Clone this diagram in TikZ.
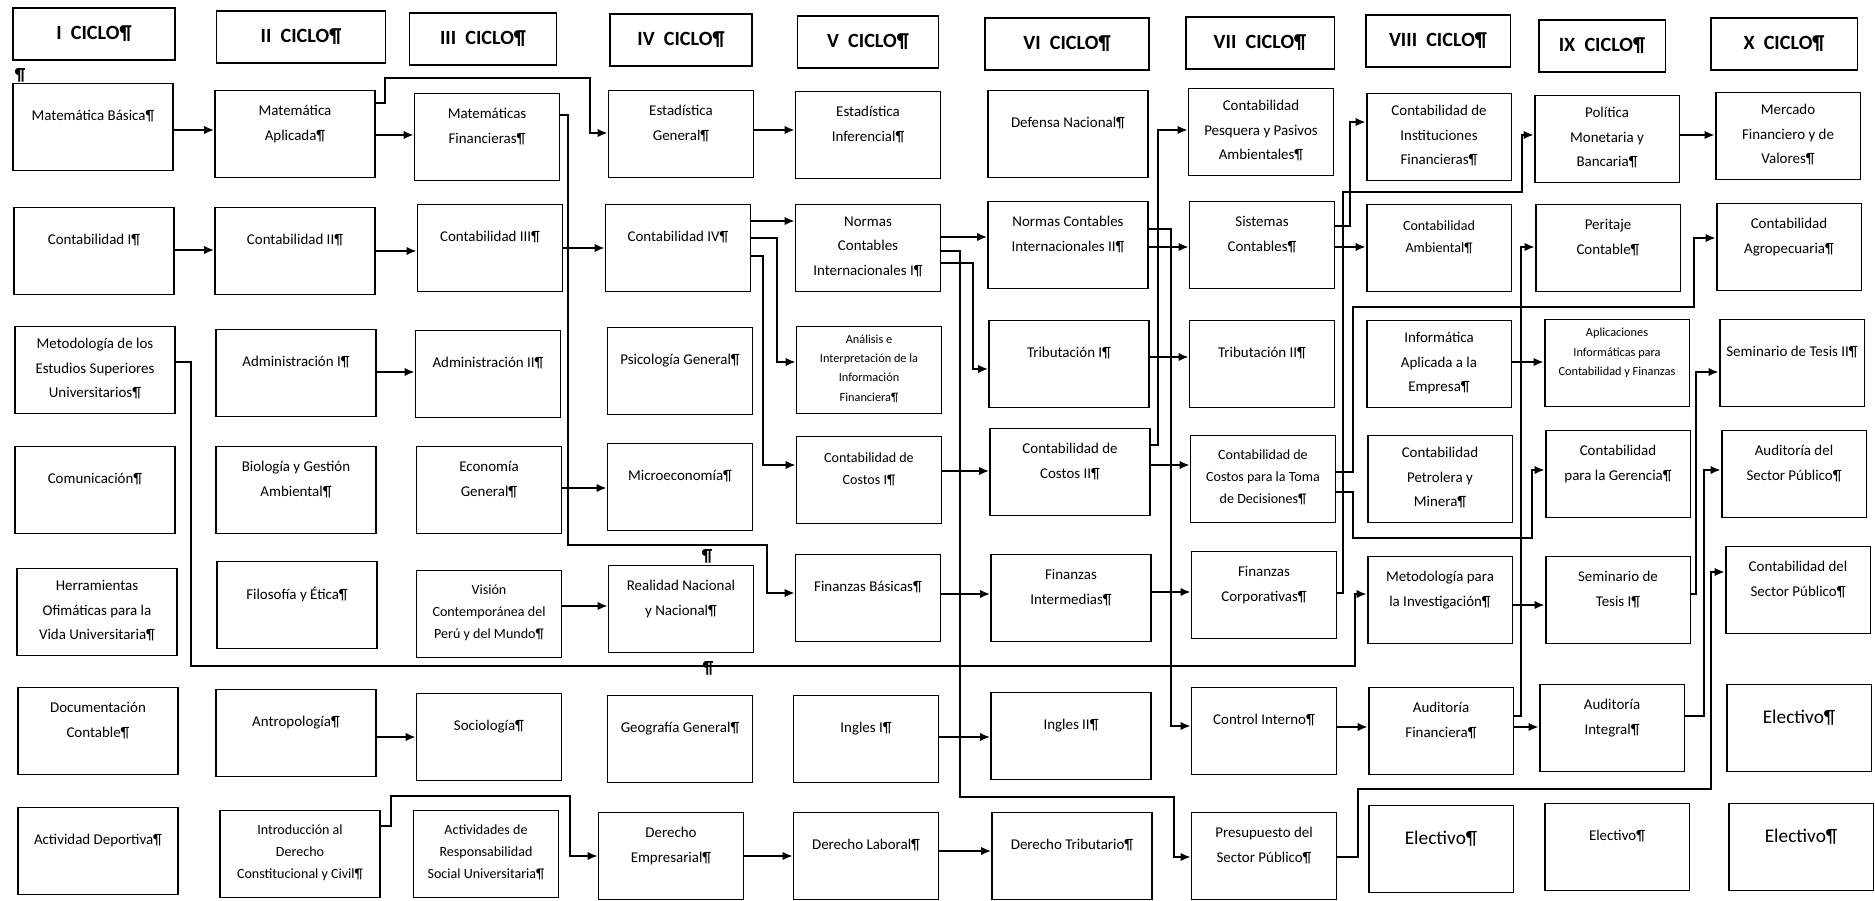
\documentclass[tikz,border=0pt]{standalone}
\usepackage{fontspec}
\setmainfont{Carlito}
\usetikzlibrary{arrows.meta}

\tikzstyle{course}=[draw,line width=1.1pt,minimum width=2.9cm,minimum height=1.74cm,align=center,inner sep=2pt,text depth=0.45cm,font=\fontsize{8.5}{14}\selectfont]
\tikzstyle{widebox}=[course,minimum width=3.2cm]
\tikzstyle{tall}=[text depth=0.08cm]
\tikzstyle{smalltext}=[font=\fontsize{7}{11}\selectfont]
\tikzstyle{midtext}=[font=\fontsize{8}{12.5}\selectfont]
\tikzstyle{bigtext}=[font=\fontsize{11}{14}\selectfont]
\tikzstyle{ciclo}=[draw,line width=1.1pt,minimum width=2.9cm,minimum height=1.04cm,font=\bfseries\fontsize{11.5}{14}\selectfont]
\tikzstyle{link}=[-{Latex[length=2mm,width=1.7mm]},line width=1pt]
\tikzstyle{stray}=[font=\bfseries\fontsize{10}{12}\selectfont,inner sep=0pt]

\begin{document}
\begin{tikzpicture}[x=0.02cm,y=-0.02cm]
\useasboundingbox (0,0) rectangle (1875,901);
% headers
\node[ciclo,minimum width=3.24cm] (h1) at (94,34) {I\ \ CICLO¶};
\node[ciclo,minimum width=3.38cm] (h2) at (301,37) {II\ \ CICLO¶};
\node[ciclo,minimum width=2.94cm] (h3) at (483,39) {III\ \ CICLO¶};
\node[ciclo,minimum width=2.84cm] (h4) at (681,40) {IV\ \ CICLO¶};
\node[ciclo,minimum width=2.82cm] (h5) at (868,42) {V\ \ CICLO¶};
\node[ciclo,minimum width=3.28cm] (h6) at (1067,44) {VI\ \ CICLO¶};
\node[ciclo,minimum width=2.98cm] (h7) at (1260,43) {VII\ \ CICLO¶};
\node[ciclo,minimum width=2.9cm] (h8) at (1438,41) {VIII\ \ CICLO¶};
\node[ciclo,minimum width=2.54cm] (h9) at (1602,46) {IX\ \ CICLO¶};
\node[ciclo,minimum width=2.94cm] (h10) at (1784,44) {X\ \ CICLO¶};
\node[stray] (p1) at (20,75) {¶};
% 1st row
\node[widebox] (c1_1) at (93,127) {Matemática Básica¶};
\node[widebox] (c1_2) at (295,134) {Matemática\\Aplicada¶};
\node[course] (c1_3) at (487,137) {Matemáticas\\Financieras¶};
\node[course] (c1_4) at (681,134) {Estadística\\General¶};
\node[course] (c1_5) at (868,135) {Estadística\\Inferencial¶};
\node[widebox] (c1_6) at (1068,134) {Defensa Nacional¶};
\node[course,tall] (c1_7) at (1261,132) {Contabilidad\\Pesquera y Pasivos\\Ambientales¶};
\node[course,tall] (c1_8) at (1439,137) {Contabilidad de\\Instituciones\\Financieras¶};
\node[course,tall] (c1_9) at (1607,139) {Política\\Monetaria y\\Bancaria¶};
\node[course,tall] (c1_10) at (1788,136) {Mercado\\Financiero y de\\Valores¶};
% 2nd row
\node[widebox] (c2_1) at (94,251) {Contabilidad I¶};
\node[widebox] (c2_2) at (295,251) {Contabilidad II¶};
\node[course] (c2_3) at (490,248) {Contabilidad III¶};
\node[course] (c2_4) at (678,248) {Contabilidad IV¶};
\node[course,tall] (c2_5) at (868,248) {Normas\\Contables\\Internacionales I¶};
\node[widebox] (c2_6) at (1068,245) {Normas Contables\\Internacionales II¶};
\node[course] (c2_7) at (1262,245) {Sistemas\\Contables¶};
\node[course,midtext] (c2_8) at (1439,248) {Contabilidad\\Ambiental¶};
\node[course] (c2_9) at (1608,248) {Peritaje\\Contable¶};
\node[course] (c2_10) at (1789,247) {Contabilidad\\Agropecuaria¶};
% 3rd row
\node[widebox,tall] (c3_1) at (95,370) {Metodología de los\\Estudios Superiores\\Universitarios¶};
\node[widebox] (c3_2) at (296,373) {Administración I¶};
\node[course] (c3_3) at (488,374) {Administración II¶};
\node[course] (c3_4) at (680,371) {Psicología General¶};
\node[course,smalltext,tall] (c3_5) at (869,370) {Análisis e\\Interpretación de la\\Información\\Financiera¶};
\node[widebox] (c3_6) at (1069,364) {Tributación I¶};
\node[course] (c3_7) at (1262,364) {Tributación II¶};
\node[course,tall] (c3_8) at (1439,364) {Informática\\Aplicada a la\\Empresa¶};
\node[course,smalltext] (c3_9) at (1617,363) {Aplicaciones\\Informáticas para\\Contabilidad y Finanzas};
\node[course] (c3_10) at (1792,363) {Seminario de Tesis II¶};
% 4th row
\node[widebox] (c4_1) at (95,490) {Comunicación¶};
\node[widebox] (c4_2) at (296,490) {Biología y Gestión\\Ambiental¶};
\node[course] (c4_3) at (489,490) {Economía\\General¶};
\node[course] (c4_4) at (680,487) {Microeconomía¶};
\node[course,midtext] (c4_5) at (869,480) {Contabilidad de\\Costos I¶};
\node[widebox] (c4_6) at (1070,472) {Contabilidad de\\Costos II¶};
\node[course,midtext,tall] (c4_7) at (1263,479) {Contabilidad de\\Costos para la Toma\\de Decisiones¶};
\node[course,tall] (c4_8) at (1440,479) {Contabilidad\\Petrolera y\\Minera¶};
\node[course] (c4_9) at (1618,474) {Contabilidad\\para la Gerencia¶};
\node[course] (c4_10) at (1794,474) {Auditoría del\\Sector Público¶};
% 5th row
\node[widebox,tall] (c5_1) at (97,612) {Herramientas\\Ofimáticas para la\\Vida Universitaria¶};
\node[widebox] (c5_2) at (297,605) {Filosofía y Ética¶};
\node[course,midtext,tall] (c5_3) at (489,614) {Visión\\Contemporánea del\\Perú y del Mundo¶};
\node[course] (c5_4) at (681,609) {Realidad Nacional\\y Nacional¶};
\node[course] (c5_5) at (868,598) {Finanzas Básicas¶};
\node[widebox] (c5_6) at (1071,598) {Finanzas\\Intermedias¶};
\node[course] (c5_7) at (1264,595) {Finanzas\\Corporativas¶};
\node[course] (c5_8) at (1440,600) {Metodología para\\la Investigación¶};
\node[course] (c5_9) at (1618,600) {Seminario de\\Tesis I¶};
\node[course] (c5_10) at (1798,590) {Contabilidad del\\Sector Público¶};
\node[stray] (p2) at (707,556) {¶};
\node[stray] (p3) at (708,668) {¶};
% 6th row
\node[widebox] (c6_1) at (98,731) {Documentación\\Contable¶};
\node[widebox] (c6_2) at (296,733) {Antropología¶};
\node[course] (c6_3) at (489,737) {Sociología¶};
\node[course] (c6_4) at (680,739) {Geografía General¶};
\node[course] (c6_5) at (866,739) {Ingles I¶};
\node[widebox] (c6_6) at (1071,736) {Ingles II¶};
\node[course] (c6_7) at (1264,731) {Control Interno¶};
\node[course] (c6_8) at (1441,731) {Auditoría\\Financiera¶};
\node[course] (c6_9) at (1612,728) {Auditoría\\Integral¶};
\node[course,bigtext] (c6_10) at (1799,728) {Electivo¶};
% 7th row
\node[widebox] (c7_1) at (98,851) {Actividad Deportiva¶};
\node[widebox,midtext,tall] (c7_2) at (300,854) {Introducción al\\Derecho\\Constitucional y Civil¶};
\node[course,midtext,tall] (c7_3) at (486,854) {Actividades de\\Responsabilidad\\Social Universitaria¶};
\node[course] (c7_4) at (671,856) {Derecho\\Empresarial¶};
\node[course] (c7_5) at (866,856) {Derecho Laboral¶};
\node[widebox] (c7_6) at (1072,856) {Derecho Tributario¶};
\node[course] (c7_7) at (1264,856) {Presupuesto del\\Sector Público¶};
\node[course,bigtext] (c7_8) at (1441,849) {Electivo¶};
\node[course] (c7_9) at (1617,847) {Electivo¶};
\node[course,bigtext] (c7_10) at (1801,847) {Electivo¶};
% straight links
\draw[link] (c1_1.east |- 0,130) -- (c1_2.west |- 0,130);
\draw[link] (c1_2.east |- 0,135) -- (c1_3.west |- 0,135);
\draw[link] (c1_4.east |- 0,130) -- (c1_5.west |- 0,130);
\draw[link] (c1_9.east |- 0,135) -- (c1_10.west |- 0,135);
\draw[link] (c2_1.east |- 0,250) -- (c2_2.west |- 0,250);
\draw[link] (c2_2.east |- 0,251) -- (c2_3.west |- 0,251);
\draw[link] (c2_3.east |- 0,248) -- (c2_4.west |- 0,248);
\draw[link] (c2_4.east |- 0,221) -- (c2_5.west |- 0,221);
\draw[link] (c2_5.east |- 0,237) -- (c2_6.west |- 0,237);
\draw[link] (c2_6.east |- 0,247) -- (c2_7.west |- 0,247);
\draw[link] (c2_7.east |- 0,247) -- (c2_8.west |- 0,247);
\draw[link] (c3_2.east |- 0,372) -- (c3_3.west |- 0,372);
\draw[link] (c3_6.east |- 0,357) -- (c3_7.west |- 0,357);
\draw[link] (c3_8.east |- 0,362) -- (c3_9.west |- 0,362);
\draw[link] (c4_3.east |- 0,488) -- (c4_4.west |- 0,488);
\draw[link] (c4_5.east |- 0,471) -- (c4_6.west |- 0,471);
\draw[link] (c4_6.east |- 0,465) -- (c4_7.west |- 0,465);
\draw[link] (c5_3.east |- 0,606) -- (c5_4.west |- 0,606);
\draw[link] (c5_5.east |- 0,594) -- (c5_6.west |- 0,594);
\draw[link] (c5_6.east |- 0,592) -- (c5_7.west |- 0,592);
\draw[link] (c5_8.east |- 0,605) -- (c5_9.west |- 0,605);
\draw[link] (c6_2.east |- 0,737) -- (c6_3.west |- 0,737);
\draw[link] (c6_5.east |- 0,737) -- (c6_6.west |- 0,737);
\draw[link] (c6_7.east |- 0,727) -- (c6_8.west |- 0,727);
\draw[link] (c6_8.east |- 0,727) -- (c6_9.west |- 0,727);
\draw[link] (c7_4.east |- 0,856) -- (c7_5.west |- 0,856);
\draw[link] (c7_5.east |- 0,851) -- (c7_6.west |- 0,851);
% elbow links
\draw[link] (c1_2.east |- 0,103) -| (385,78) -| (590,133) -- (c1_4.west |- 0,133);
\draw[link] (c1_3.east |- 0,115) -| (568,545) -| (767,593) -- (c5_5.west |- 0,593);
\draw[link] (c2_4.east |- 0,238) -| (777,362) -- (c3_5.west |- 0,362);
\draw[link] (c2_4.east |- 0,256) -| (763,465) -- (c4_5.west |- 0,465);
\draw[link] (c2_5.east |- 0,251) -| (960,797) -| (1174,857) -- (c7_7.west |- 0,857);
\draw[link] (c2_5.east |- 0,263) -| (973,369) -- (c3_6.west |- 0,369);
\draw[link] (c2_6.east |- 0,229) -| (1171,726) -- (c6_7.west |- 0,726);
\draw[link] (c4_6.east |- 0,445) -| (1158,130) -- (c1_7.west |- 0,130);
\draw[link] (c2_7.east |- 0,226) -| (1350,122) -- (c1_8.west |- 0,122);
\draw[link] (c5_7.east |- 0,593) -| (1343,192) -| (1522,135) -- (c1_9.west |- 0,135);
\draw[link] (c4_7.east |- 0,472) -| (1353,307) -| (1694,238) -- (c2_10.west |- 0,238);
\draw[link] (c4_7.east |- 0,492) -| (1353,538) -| (1532,470) -- (c4_9.west |- 0,470);
\draw[link] (c6_8.east |- 0,716) -| (1521,247) -- (c2_9.west |- 0,247);
\draw[link] (c5_9.east |- 0,594) -| (1696,372) -- (c3_10.west |- 0,372);
\draw[link] (c6_9.east |- 0,716) -| (1704,470) -- (c4_10.west |- 0,470);
\draw[link] (c7_7.east |- 0,857) -| (1358,789) -| (1711,572) -- (c5_10.west |- 0,572);
\draw[link] (c3_1.east |- 0,362) -| (191,666) -| (1355,594) -- (c5_8.west |- 0,594);
\draw[link] (c7_2.east |- 0,826) -| (391,796) -| (570,856) -- (c7_4.west |- 0,856);
\end{tikzpicture}
\end{document}
